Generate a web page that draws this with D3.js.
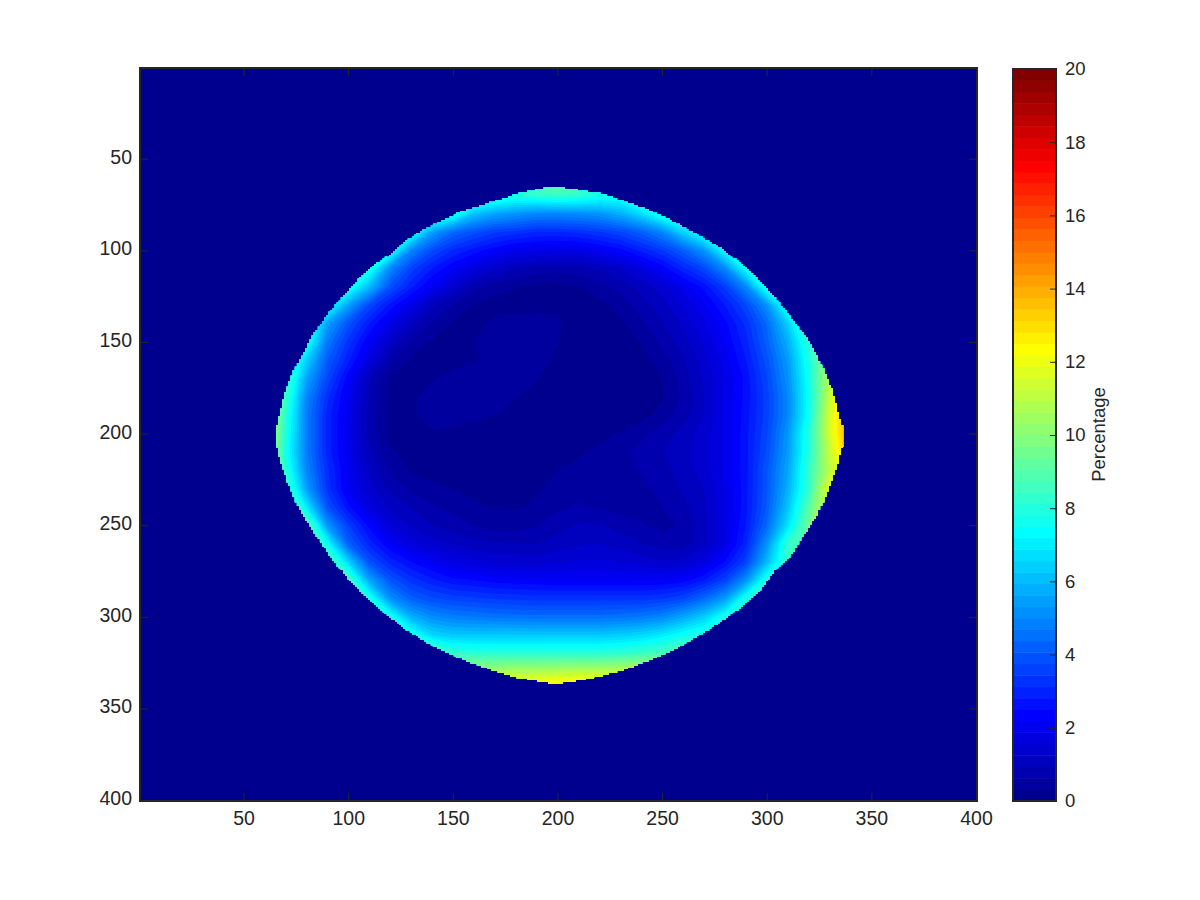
<!DOCTYPE html>
<html><head><meta charset="utf-8">
<script src="https://cdn.jsdelivr.net/npm/d3@7"></script>
<style>
html,body{margin:0;padding:0;background:#fff;}
svg{display:block;}
text{font-family:"Liberation Sans",Arial,sans-serif;fill:#262626;}
</style></head><body>
<svg id="c" width="1200" height="900"></svg>
<script>
// Axis ticks
const xTicks = [50,100,150,200,250,300,350,400];
const yTicks = [50,100,150,200,250,300,350,400];
const barTicks = [0,2,4,6,8,10,12,14,16,18,20];
const barLabel = "Percentage";
// Sampled grid positions (image columns / rows)
const gridX = [60,70,80,90,100,110,120,130,140,150,160,170,180,190,200,210,220,230,240,250,260,270,280,290,300,310,320,330,340];
const gridY = [60,70,80,90,100,110,120,130,140,150,160,170,180,190,200,210,220,230,240,250,260,270,280,290,300,310,320,330,340];
// Percentage, one row per gridY
const heatValues = [
[9,9,9,9,9,9,9,9,9,9,9,9,9,10,10,10,9,9,9,9,9,9,9,9,9,9,9,9,9],
[9,9,9,9,9,9,9,9,9,9,9,8.5,8,8.2,8.4,8.2,7.8,7.8,9,9,9,9,9,9,9,9,9,9,9],
[9,9,9,9,9,9,9,9,9,8,6.2,5.6,5.3,5,5,5.1,5.3,5.8,6.7,8,9,9,9,9,9,9,9,9,9],
[9,9,9,9,9,9,9,8,5.5,4.4,3.9,3.5,3.3,3.1,3.1,3.2,3.4,3.7,4.2,5,6.5,8,9,9,9,9,9,9,9],
[9,9,9,9,9,9,8,5,3.8,3.1,2.7,2.3,2,1.9,1.85,1.85,2.1,2.4,2.9,3.4,4.2,5.3,7.5,9,9,9,9,9,9],
[9,9,9,9,9,8,5,3.6,2.8,2.2,1.7,1.3,.95,.8,.75,.8,1,1.25,1.7,2.3,3,3.7,5,7.5,9,9,9,9,9],
[9,9,9,9,8,6,3.9,2.9,2.1,1.4,.75,.48,.33,.2,.15,.28,.5,.75,1.05,1.4,2,2.6,3.5,5,8,9,9,9,9],
[9,9,9,8,5.5,3.7,2.7,1.9,1,.6,.28,.15,.15,.2,.25,.12,.22,.42,.8,1.1,1.6,2.1,2.8,3.7,5.2,8,9,9,9],
[9,9,8.5,5.5,3.9,2.8,1.9,1.1,.6,.25,.2,.4,.5,.48,.35,.15,.15,.25,.55,.9,1.3,1.8,2.4,3.2,4.4,6.4,9,10,10],
[9,9,8,4.7,3.3,2.2,1.2,.6,.27,.2,.3,.5,.55,.45,.33,.12,.12,.15,.32,.7,1.1,1.6,2.2,3,4.2,5.8,8.2,10,10],
[10,9,6.5,4.1,2.9,1.7,.7,.25,.2,.2,.28,.42,.48,.42,.25,.1,.1,.12,.2,.45,.9,1.4,2,2.8,3.9,5.4,7.8,11,12],
[10,9,5.6,3.7,2.3,1,.28,.2,.28,.42,.5,.48,.42,.33,.12,.1,.1,.1,.15,.3,.75,1.3,1.9,2.6,3.7,5.2,7.6,11,13],
[11,8.5,5,3.2,2.1,.9,.22,.26,.42,.5,.48,.42,.34,.15,.1,.1,.1,.1,.14,.28,.68,1.25,1.95,2.6,3.6,5,7.5,11.2,14],
[12,8.2,4.8,3,2,.8,.2,.26,.42,.45,.38,.32,.15,.1,.1,.1,.1,.12,.18,.42,.8,1.25,1.95,2.65,3.6,5,7.6,11.5,14.5],
[12,8,4.8,3,1.95,.85,.2,.2,.28,.25,.18,.12,.1,.1,.1,.12,.2,.33,.55,.78,1.05,1.4,1.95,2.7,3.7,5.3,8,11.5,14.5],
[12,7.8,4.8,3,2,1,.36,.2,.15,.12,.1,.1,.1,.1,.14,.27,.4,.54,.72,.9,1.15,1.45,1.95,2.7,3.8,5.4,8,11.2,14],
[12,8.2,5,3.2,2.1,1.2,.55,.27,.18,.12,.1,.1,.12,.2,.31,.4,.46,.54,.64,.83,1.07,1.4,1.95,2.7,4,5.6,8.3,11,13],
[12,9,5.5,3.3,2.1,1.4,.85,.55,.4,.3,.22,.18,.2,.27,.4,.54,.55,.52,.55,.72,.97,1.25,1.85,2.7,4,5.8,8.3,12,13],
[12,11,7,3.9,2.6,1.7,1.2,.9,.65,.5,.37,.3,.28,.36,.56,.66,.58,.5,.5,.62,.85,1.2,1.85,2.7,4.1,6.2,9,12,13],
[12,11,9.5,5.3,3.5,2.4,1.6,1.2,.95,.78,.6,.48,.48,.6,.8,.98,.98,.8,.65,.55,.66,1.12,1.85,2.8,4.4,6.8,9.5,12,13],
[10,10,10,7.5,4.2,3,2.2,1.7,1.4,1.2,1.05,.97,.94,.93,1.1,1.2,1.25,1.12,.95,.75,.8,1.15,1.85,3,5.2,8.3,9,9,9],
[9,9,9,9.5,6.5,3.9,3,2.5,2.1,1.8,1.65,1.5,1.45,1.4,1.5,1.6,1.6,1.55,1.4,1.3,1.35,1.75,2.5,3.6,6,8.5,8.5,8.5,8.5],
[9,9,9,9,9,5.6,4,3.3,2.9,2.6,2.5,2.35,2.3,2.25,2.2,2.2,2.2,2.2,2.2,2.2,2.35,2.8,3.6,5.2,8,8,8,8,8],
[9,9,9,9,9,8,5.2,4.2,3.8,3.6,3.5,3.4,3.35,3.3,3.3,3.3,3.3,3.3,3.3,3.4,3.7,4.4,5.4,7.8,8,8,8,8,8],
[9,9,9,9,9,9,7.8,5.8,5.1,4.8,4.7,4.6,4.55,4.5,4.5,4.5,4.5,4.6,4.7,5,5.6,6.4,7.8,8,8,8,8,8,8],
[9,9,9,9,9,9,9,8,6.6,6.3,6.3,6.3,6.3,6.3,6.3,6.3,6.3,6.4,6.6,7,7.6,8,8,8,8,8,8,8,8],
[9,9,9,9,9,9,9,9,9.5,8.4,8.2,8.2,8.2,8.2,8.2,8.2,8.2,8.3,8.5,8.8,9.2,9.2,9.2,9.2,9.2,9.2,9.2,9.2,9.2],
[11,11,11,11,11,11,11,11,11,11,10.5,10.7,10.8,10.8,10.9,11,11,11.2,11.4,12,12,12,12,12,12,12,12,12,12],
[13,13,13,13,13,13,13,13,13,13,13,13,13,13.2,13.4,13.4,13.4,13.4,13.4,13.4,13,13,13,13,13,13,13,13,13]
];
// Outline of the non-zero region (clockwise from the top)
const edgeX = [200,221.8,240.9,253.8,267.2,277.7,290.6,303,312.6,320.7,326.9,331.7,334.6,336.5,336.8,336.5,333.6,330.2,326.9,324,318.3,312.6,303,296.8,287.2,277.7,269.6,257.1,244.2,231.3,218.9,206,200,196.4,179.7,164.4,152,142.4,129.5,118.5,109,99.4,92.7,85.1,79.4,74.6,70.7,67.4,65.5,65.3,65.5,67.4,69.8,73.6,79.4,83.2,89.9,96,104.7,110.4,118.5,126.2,134.3,142.4,153.4,164.4,180.7,196.4];
const edgeY = [65.3,69.3,76.9,83.4,91.6,98.7,109.6,124.4,138,150.6,164.2,177.9,190.9,196.9,200,205.1,218.2,228.1,237.3,244.4,254.3,265.2,276.1,285.4,295.2,302.9,308.8,317,323.6,329,332.8,335.6,336.3,336.1,332.8,327.4,322,317,308.3,299,289.7,278.3,269,256.4,246.1,236.2,225.3,214.4,205.3,200,198,188.8,177.9,166.4,154.4,146.2,135.3,127.1,116.2,109.6,103.5,96,89.8,85.1,79.2,75.3,69.3,65.3];

const svg = d3.select("#c");
const ink = "#262626";
const plot = {l:140,r:977,t:68,b:801};
const bar = {l:1013,r:1056,t:69,b:801};
const x = d3.scaleLinear().domain([0.5,400.5]).range([plot.l,plot.r]);
const y = d3.scaleLinear().domain([0.5,400.5]).range([plot.t,plot.b]);
const barY = d3.scaleLinear().domain([0,20]).range([bar.b,bar.t]);

// 64-level jet palette
const levels = 64;
function jet(k){
  const ramp = (c)=>Math.round(255*Math.max(0,Math.min(1,c)));
  const r = Math.min((k-23)/16, 1-(k-55)/16);
  const g = Math.min((k-7)/16, 1-(k-39)/16);
  const b = Math.min((k+9)/16, 1-(k-23)/16);
  return d3.rgb(ramp(r),ramp(g),ramp(b)).formatHex();
}
const bg = jet(0);
const defs = svg.append("defs");

// Outline as a stair-step polygon on the image's own pixel grid
const outline = edgeX.map((v,i)=>[v,edgeY[i]]);
const lefts=[], rights=[];
d3.range(60,342).forEach(r=>{
  const inside = d3.range(60,342).filter(c=>d3.polygonContains(outline,[c,r]));
  if(!inside.length) return;
  const a=inside[0], b=inside[inside.length-1];
  lefts.push([a-0.5,r-0.5],[a-0.5,r+0.5]);
  rights.push([b+0.5,r-0.5],[b+0.5,r+0.5]);
});
const stair = lefts.concat(rights.reverse());
defs.append("clipPath").attr("id","edge").append("path")
  .attr("d", d3.line().x(d=>x(d[0])).y(d=>y(d[1])).curve(d3.curveLinearClosed)(stair));

svg.append("rect").attr("x",plot.l).attr("y",plot.t).attr("width",plot.r-plot.l).attr("height",plot.b-plot.t).attr("fill",bg);

const flat = heatValues.flat();
const thresholds = d3.range(levels).map(k=>k*20/levels);
const contours = d3.contours().size([gridX.length,gridY.length]).thresholds(thresholds)(flat);
const stepX = gridX[1]-gridX[0], stepY = gridY[1]-gridY[0];
const proj = d3.geoTransform({point(px,py){
  this.stream.point(x(gridX[0]+(px-0.5)*stepX), y(gridY[0]+(py-0.5)*stepY));
}});
const path = d3.geoPath(proj);
svg.append("g").attr("clip-path","url(#edge)")
  .selectAll("path").data(contours).join("path")
  .attr("d",path)
  .attr("fill",(d,i)=>jet(i));

// Colorbar
const step = 20/levels;
svg.append("g").selectAll("rect").data(d3.range(levels)).join("rect")
  .attr("x",bar.l).attr("width",bar.r-bar.l)
  .attr("y",k=>barY((k+1)*step)).attr("height",k=>barY(k*step)-barY((k+1)*step)+0.5)
  .attr("fill",k=>jet(k));

// Axes
function styleAxis(g,size){
  g.select(".domain").remove();
  g.selectAll("line").attr("stroke",ink).attr("stroke-width",1);
  g.selectAll("text").attr("font-size",size).attr("fill",ink);
}
const tl = 8;
svg.append("g").attr("transform",`translate(0,${plot.b})`)
  .call(d3.axisBottom(x).tickValues(xTicks).tickSize(-tl).tickPadding(10).tickSizeOuter(0))
  .call(g=>styleAxis(g,19.5));
svg.append("g").attr("transform",`translate(0,${plot.t})`)
  .call(d3.axisTop(x).tickValues(xTicks).tickSize(-tl).tickFormat("").tickSizeOuter(0))
  .call(g=>styleAxis(g,19.5));
svg.append("g").attr("transform",`translate(${plot.l},0)`)
  .call(d3.axisLeft(y).tickValues(yTicks).tickSize(-tl).tickPadding(8).tickSizeOuter(0))
  .call(g=>{styleAxis(g,19.5);g.selectAll("text").attr("dy","0.23em");});
svg.append("g").attr("transform",`translate(${plot.r},0)`)
  .call(d3.axisRight(y).tickValues(yTicks).tickSize(-tl).tickFormat("").tickSizeOuter(0))
  .call(g=>styleAxis(g,19.5));
svg.append("g").attr("transform",`translate(${bar.r},0)`)
  .call(d3.axisRight(barY).tickValues(barTicks).tickSize(-6).tickPadding(9).tickSizeOuter(0))
  .call(g=>styleAxis(g,18.5));

svg.append("rect").attr("x",plot.l).attr("y",plot.t).attr("width",plot.r-plot.l).attr("height",plot.b-plot.t)
  .attr("fill","none").attr("stroke",ink).attr("stroke-width",2);
svg.append("rect").attr("x",bar.l).attr("y",bar.t).attr("width",bar.r-bar.l).attr("height",bar.b-bar.t)
  .attr("fill","none").attr("stroke",ink).attr("stroke-width",2);

svg.append("text").text(barLabel)
  .attr("transform",`translate(1105,434.5) rotate(-90)`)
  .attr("text-anchor","middle").attr("font-size",18.5);
</script>
</body></html>
